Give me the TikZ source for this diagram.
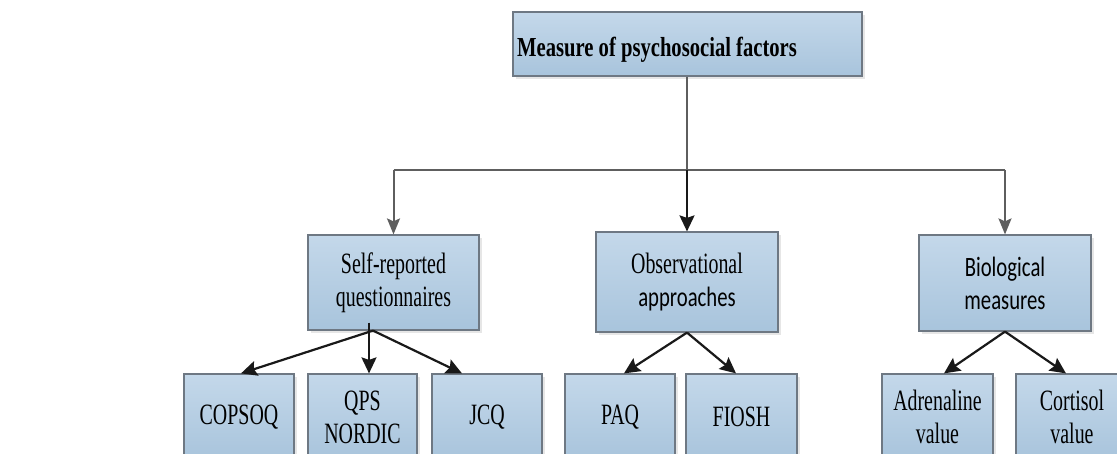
\documentclass[tikz,border=0pt]{standalone}
\usepackage{fontspec}
\setmainfont{Liberation Serif}[FakeStretch=0.675]
\newfontfamily\topfont{Liberation Serif}[FakeStretch=0.75]
\newfontfamily\calib{Carlito}[FakeStretch=0.74]
\usetikzlibrary{arrows.meta,shadows}
\definecolor{boxtop}{HTML}{C4D8EA}
\definecolor{boxbot}{HTML}{A8C4DC}
\definecolor{boxline}{HTML}{6E7883}
\definecolor{linegray}{HTML}{5E5E5E}
\tikzset{
  box/.style={draw=boxline, line width=1.2pt, top color=boxtop, bottom color=boxbot,
    align=center, inner sep=2pt, font=\fontsize{29.5}{33}\selectfont,
    drop shadow={shadow xshift=3pt, shadow yshift=-3pt, fill=black!12, opacity=0.8}},
  leaf/.style={box, minimum width=110pt, minimum height=86pt},
  mid/.style={box},
  grayarrow/.style={draw=linegray, line width=2pt, -{Stealth[length=16pt,width=13pt,inset=3pt]}},
  blackarrow/.style={draw=black!90, line width=2.2pt, -{Stealth[length=16pt,width=15pt,inset=2.5pt]}},
  grayline/.style={draw=linegray, line width=1.8pt},
}
\begin{document}
\begin{tikzpicture}[x=1pt,y=-1pt]
\useasboundingbox (0,0) rectangle (1117,454);
\clip (0,0) rectangle (1117,454);
\fill[white] (0,0) rectangle (1117,454);

% top
\node[box, minimum width=349pt, minimum height=64pt] (top) at (687.5,44) {};
\node[anchor=base west, inner sep=0pt, font=\topfont\bfseries\fontsize{27.5}{32}\selectfont] (toplbl) at (517,57) {Measure of psychosocial factors};

% middle level
\node[mid, minimum width=171pt, minimum height=95pt] (self) at (393.5,282.5) {Self-reported\\questionnaires};
\node[mid, minimum width=182pt, minimum height=100pt] (obs) at (687,282) {Observational\\{\calib\fontsize{28}{33}\selectfont approaches}};
\node[mid, minimum width=172pt, minimum height=96pt, font=\calib\fontsize{28}{33}\selectfont] (bio) at (1005,283) {Biological\\measures};

% leaves
\node[leaf] (cop) at (239,417) {COPSOQ};
\node[leaf, minimum width=109pt] (qps) at (362.5,417) {QPS\\NORDIC};
\node[leaf] (jcq) at (487,417) {JCQ};
\node[leaf] (paq) at (620,417) {PAQ};
\node[leaf, minimum width=111pt] (fiosh) at (741.5,417) {FIOSH};
\node[leaf, minimum width=111pt] (adr) at (937.5,417) {Adrenaline\\value};
\node[leaf, minimum width=112pt] (cort) at (1072,417) {Cortisol\\value};

% top connectors
\coordinate (hub) at (687,170);
\coordinate (hl) at (self.north |- hub);
\coordinate (hr) at (bio.north |- hub);
\draw[grayline] (hub |- top.south) -- (hub);
\draw[grayline] (hl) -- (hr);
\draw[grayarrow] (hl) -- (self.north);
\draw[grayarrow] (hr) -- (bio.north);
\draw[blackarrow] (hub) -- (hub |- obs.north);

% self-reported children
\coordinate (sroot) at ([xshift=-20.5pt]self.south);
\draw[blackarrow] (sroot) -- ([xshift=2pt]cop.north);
\draw[blackarrow] ([xshift=-24.5pt,yshift=8pt]self.south) -- ([xshift=6.5pt]qps.north);
\draw[blackarrow] (sroot) -- ([xshift=-25pt]jcq.north);

% observational children
\draw[blackarrow] (obs.south) -- ([xshift=4pt]paq.north);
\draw[blackarrow] (obs.south) -- ([xshift=-5.5pt]fiosh.north);

% biological children
\draw[blackarrow] (bio.south) -- ([xshift=6.5pt]adr.north);
\draw[blackarrow] (bio.south) -- ([xshift=-6pt]cort.north);
\end{tikzpicture}
\end{document}
